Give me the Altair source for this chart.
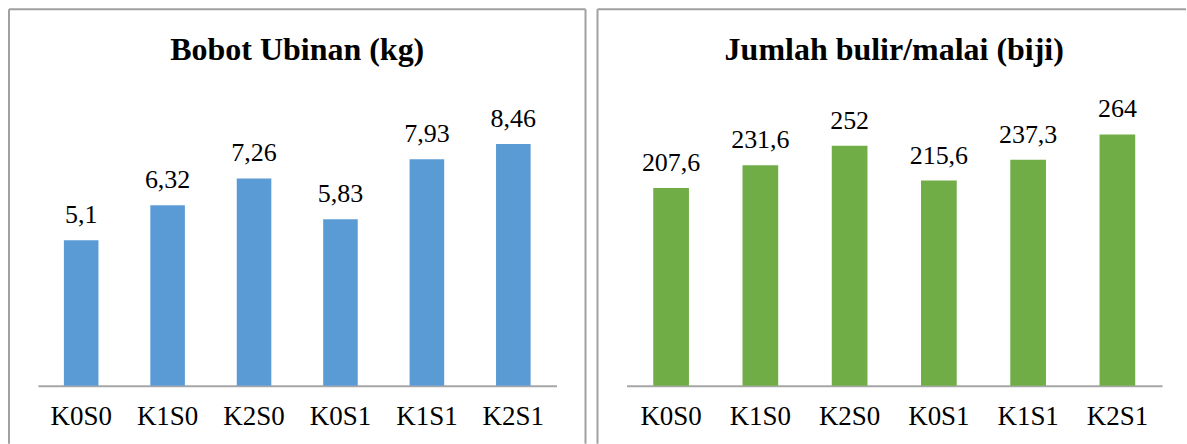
import altair as alt
import pandas as pd

categories = ["K0S0", "K1S0", "K2S0", "K0S1", "K1S1", "K2S1"]
bobot = [5.1, 6.32, 7.26, 5.83, 7.93, 8.46]
bobot_labels = ["5,1", "6,32", "7,26", "5,83", "7,93", "8,46"]
bulir = [207.6, 231.6, 252, 215.6, 237.3, 264]
bulir_labels = ["207,6", "231,6", "252", "215,6", "237,3", "264"]

FONT = "'Liberation Serif', 'Times New Roman', Times, serif"
PLOT_H = 286
BORDER = "#a0a0a0"


def panel(values, labels, title, color, ymax, width, border_right):
    df = pd.DataFrame({"cat": categories, "val": values, "lab": labels})
    x = alt.X("cat:N", sort=categories, title=None,
              scale=alt.Scale(paddingInner=0.6, paddingOuter=0.3),
              axis=alt.Axis(labelAngle=0, labelFont=FONT, labelFontSize=27,
                            labelColor="black", labelPadding=18, ticks=False,
                            domainColor="#a6a6a6", domainWidth=2, grid=False))
    y = alt.Y("val:Q", scale=alt.Scale(domain=[0, ymax], nice=False), axis=None)
    base = alt.Chart(df)
    bars = base.mark_bar(color=color).encode(x=x, y=y)
    text = base.mark_text(font=FONT, fontSize=26, color="black",
                          baseline="alphabetic", dy=-17).encode(x=x, y=y, text="lab:N")
    one = alt.Chart(pd.DataFrame({"d": [0]}))
    top = one.mark_rule(color=BORDER, strokeWidth=2).encode(
        x=alt.value(-29), x2=alt.value(border_right if border_right else 560),
        y=alt.value(-91))
    left_line = one.mark_rule(color=BORDER, strokeWidth=2).encode(
        x=alt.value(-29), y=alt.value(-91), y2=alt.value(344))
    layers = [top, left_line]
    if border_right:
        layers.append(one.mark_rule(color=BORDER, strokeWidth=2).encode(
            x=alt.value(border_right), y=alt.value(-91), y2=alt.value(344)))
    ttl = one.mark_text(font=FONT, fontSize=32, fontWeight="bold", color="black",
                        baseline="alphabetic").encode(
        x=alt.value(width / 2), y=alt.value(-40), text=alt.value(title))
    return alt.layer(*layers, bars, text, ttl).properties(width=width, height=PLOT_H)


left = panel(bobot, bobot_labels, "Bobot Ubinan (kg)", "#5B9BD5", 10, 519, 548)
right = panel(bulir, bulir_labels, "Jumlah bulir/malai (biji)", "#70AD47", 300, 536, None)

chart = alt.hconcat(left, right, spacing=70, bounds="flush").properties(
    padding={"left": 8, "top": 8, "right": 0, "bottom": 0},
    background="white",
).configure_view(stroke=None, strokeWidth=0)

chart.save("out.html", embed_options={"renderer": "svg", "actions": False})
